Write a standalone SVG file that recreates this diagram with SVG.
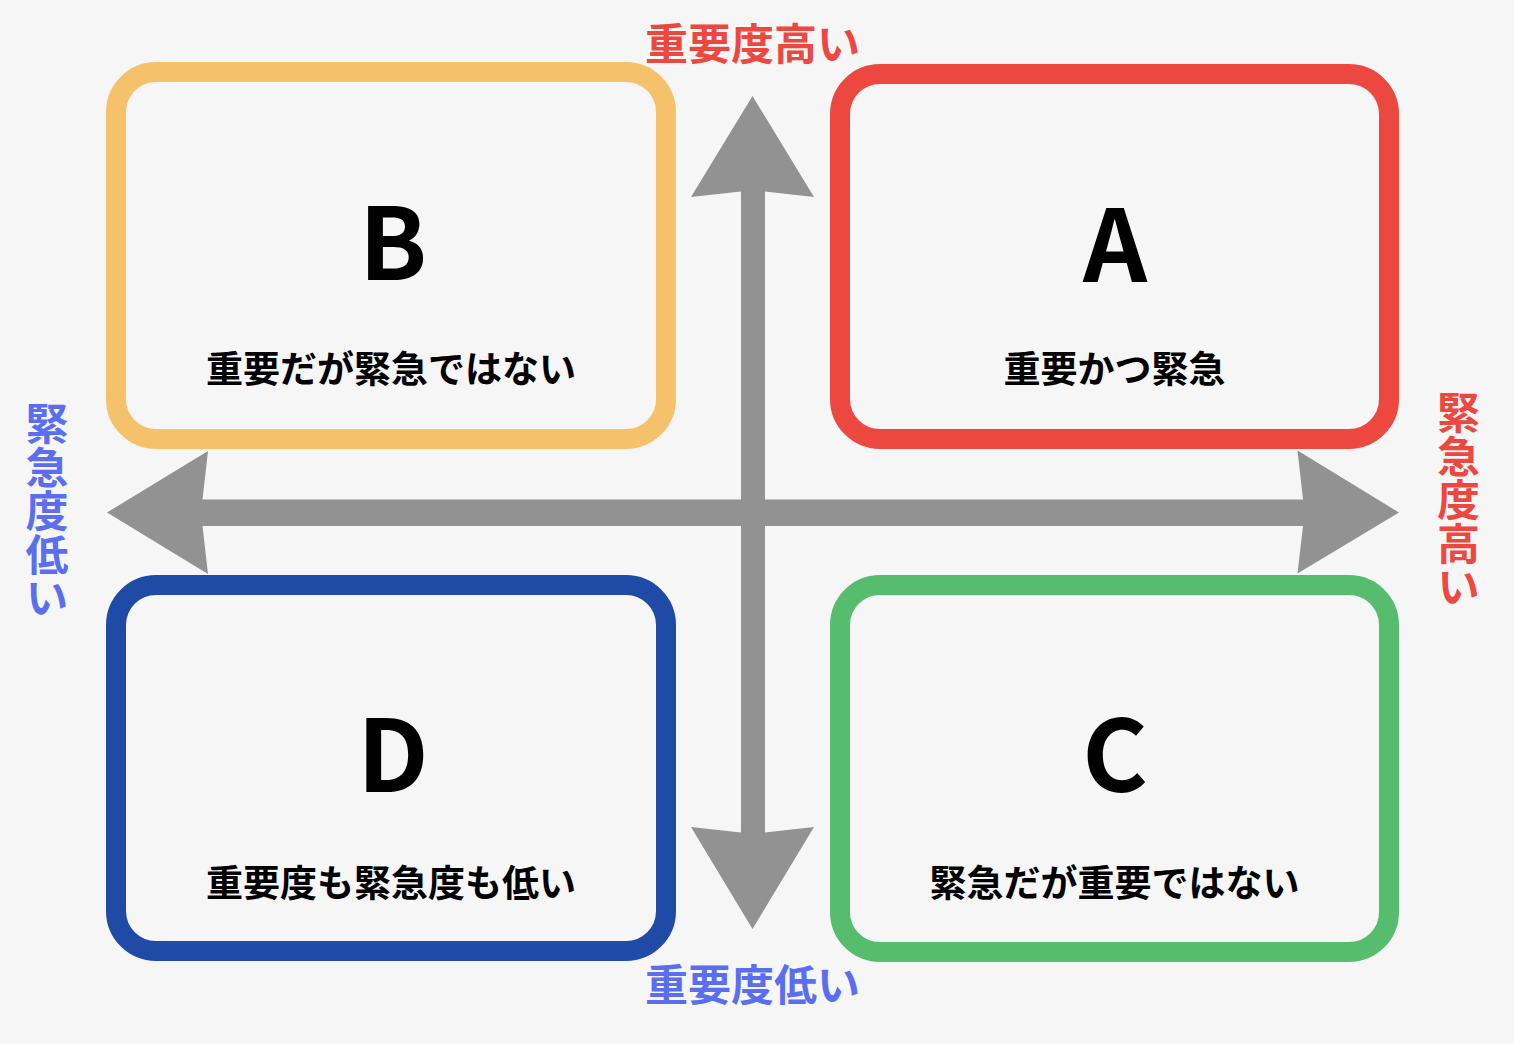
<svg xmlns="http://www.w3.org/2000/svg" width="1514" height="1044" viewBox="0 0 1514 1044">
<style>
.box{fill:none;stroke-width:20}
.t{font-family:"Noto Sans CJK JP","Noto Sans CJK SC",sans-serif;font-weight:700;text-anchor:middle}
.big{font-size:100px;fill:#000}
.sub{font-size:37px;fill:#000}
.ax{font-size:43px}
.vert{writing-mode:vertical-rl;letter-spacing:0.5px}
.red{fill:#EC4840}
.blue{fill:#5B6EF0}
.arrow{fill:#929292}
</style>
<rect x="0" y="0" width="1514" height="1044" fill="#F6F6F6"/>
<g id="connectors">
<polygon class="arrow" points="752.5,96 814,197 765,191.5 765,832.5 814,827 752.5,929 691,827 741,832.5 741,191.5 691,197"/>
<polygon class="arrow" points="107,512.5 208,451 202.5,499.5 1303,499.5 1297.5,450.5 1399,512.5 1297.5,573.5 1303,526 202.5,526 208,574"/>
</g>
<g id="nodeB">
<rect class="box" x="116" y="72" width="550" height="367" rx="40" stroke="#F5C26B"/>
<text class="t big" x="393" y="280">B</text>
<text class="t sub" x="391" y="383">重要だが緊急ではない</text>
</g>
<g id="nodeA">
<rect class="box" x="840" y="74" width="549" height="365" rx="40" stroke="#EC4840"/>
<text class="t big" x="1115" y="282">A</text>
<text class="t sub" x="1114.5" y="383">重要かつ緊急</text>
</g>
<g id="nodeD">
<rect class="box" x="116" y="585" width="550" height="366" rx="40" stroke="#1F4BA7"/>
<text class="t big" x="393" y="792">D</text>
<text class="t sub" x="391" y="897">重要度も緊急度も低い</text>
</g>
<g id="nodeC">
<rect class="box" x="840" y="585" width="549" height="367" rx="40" stroke="#57BD6E"/>
<text class="t big" x="1115" y="792">C</text>
<text class="t sub" x="1114.5" y="897">緊急だが重要ではない</text>
</g>
<g id="label-top">
<text class="t ax red" x="752.5" y="60">重要度高い</text>
</g>
<g id="label-bottom">
<text class="t ax blue" x="752.5" y="1001">重要度低い</text>
</g>
<g id="label-left">
<text class="t ax blue vert" x="47" y="511">緊急度低い</text>
</g>
<g id="label-right">
<text class="t ax red vert" x="1458.5" y="500">緊急度高い</text>
</g>
</svg>
